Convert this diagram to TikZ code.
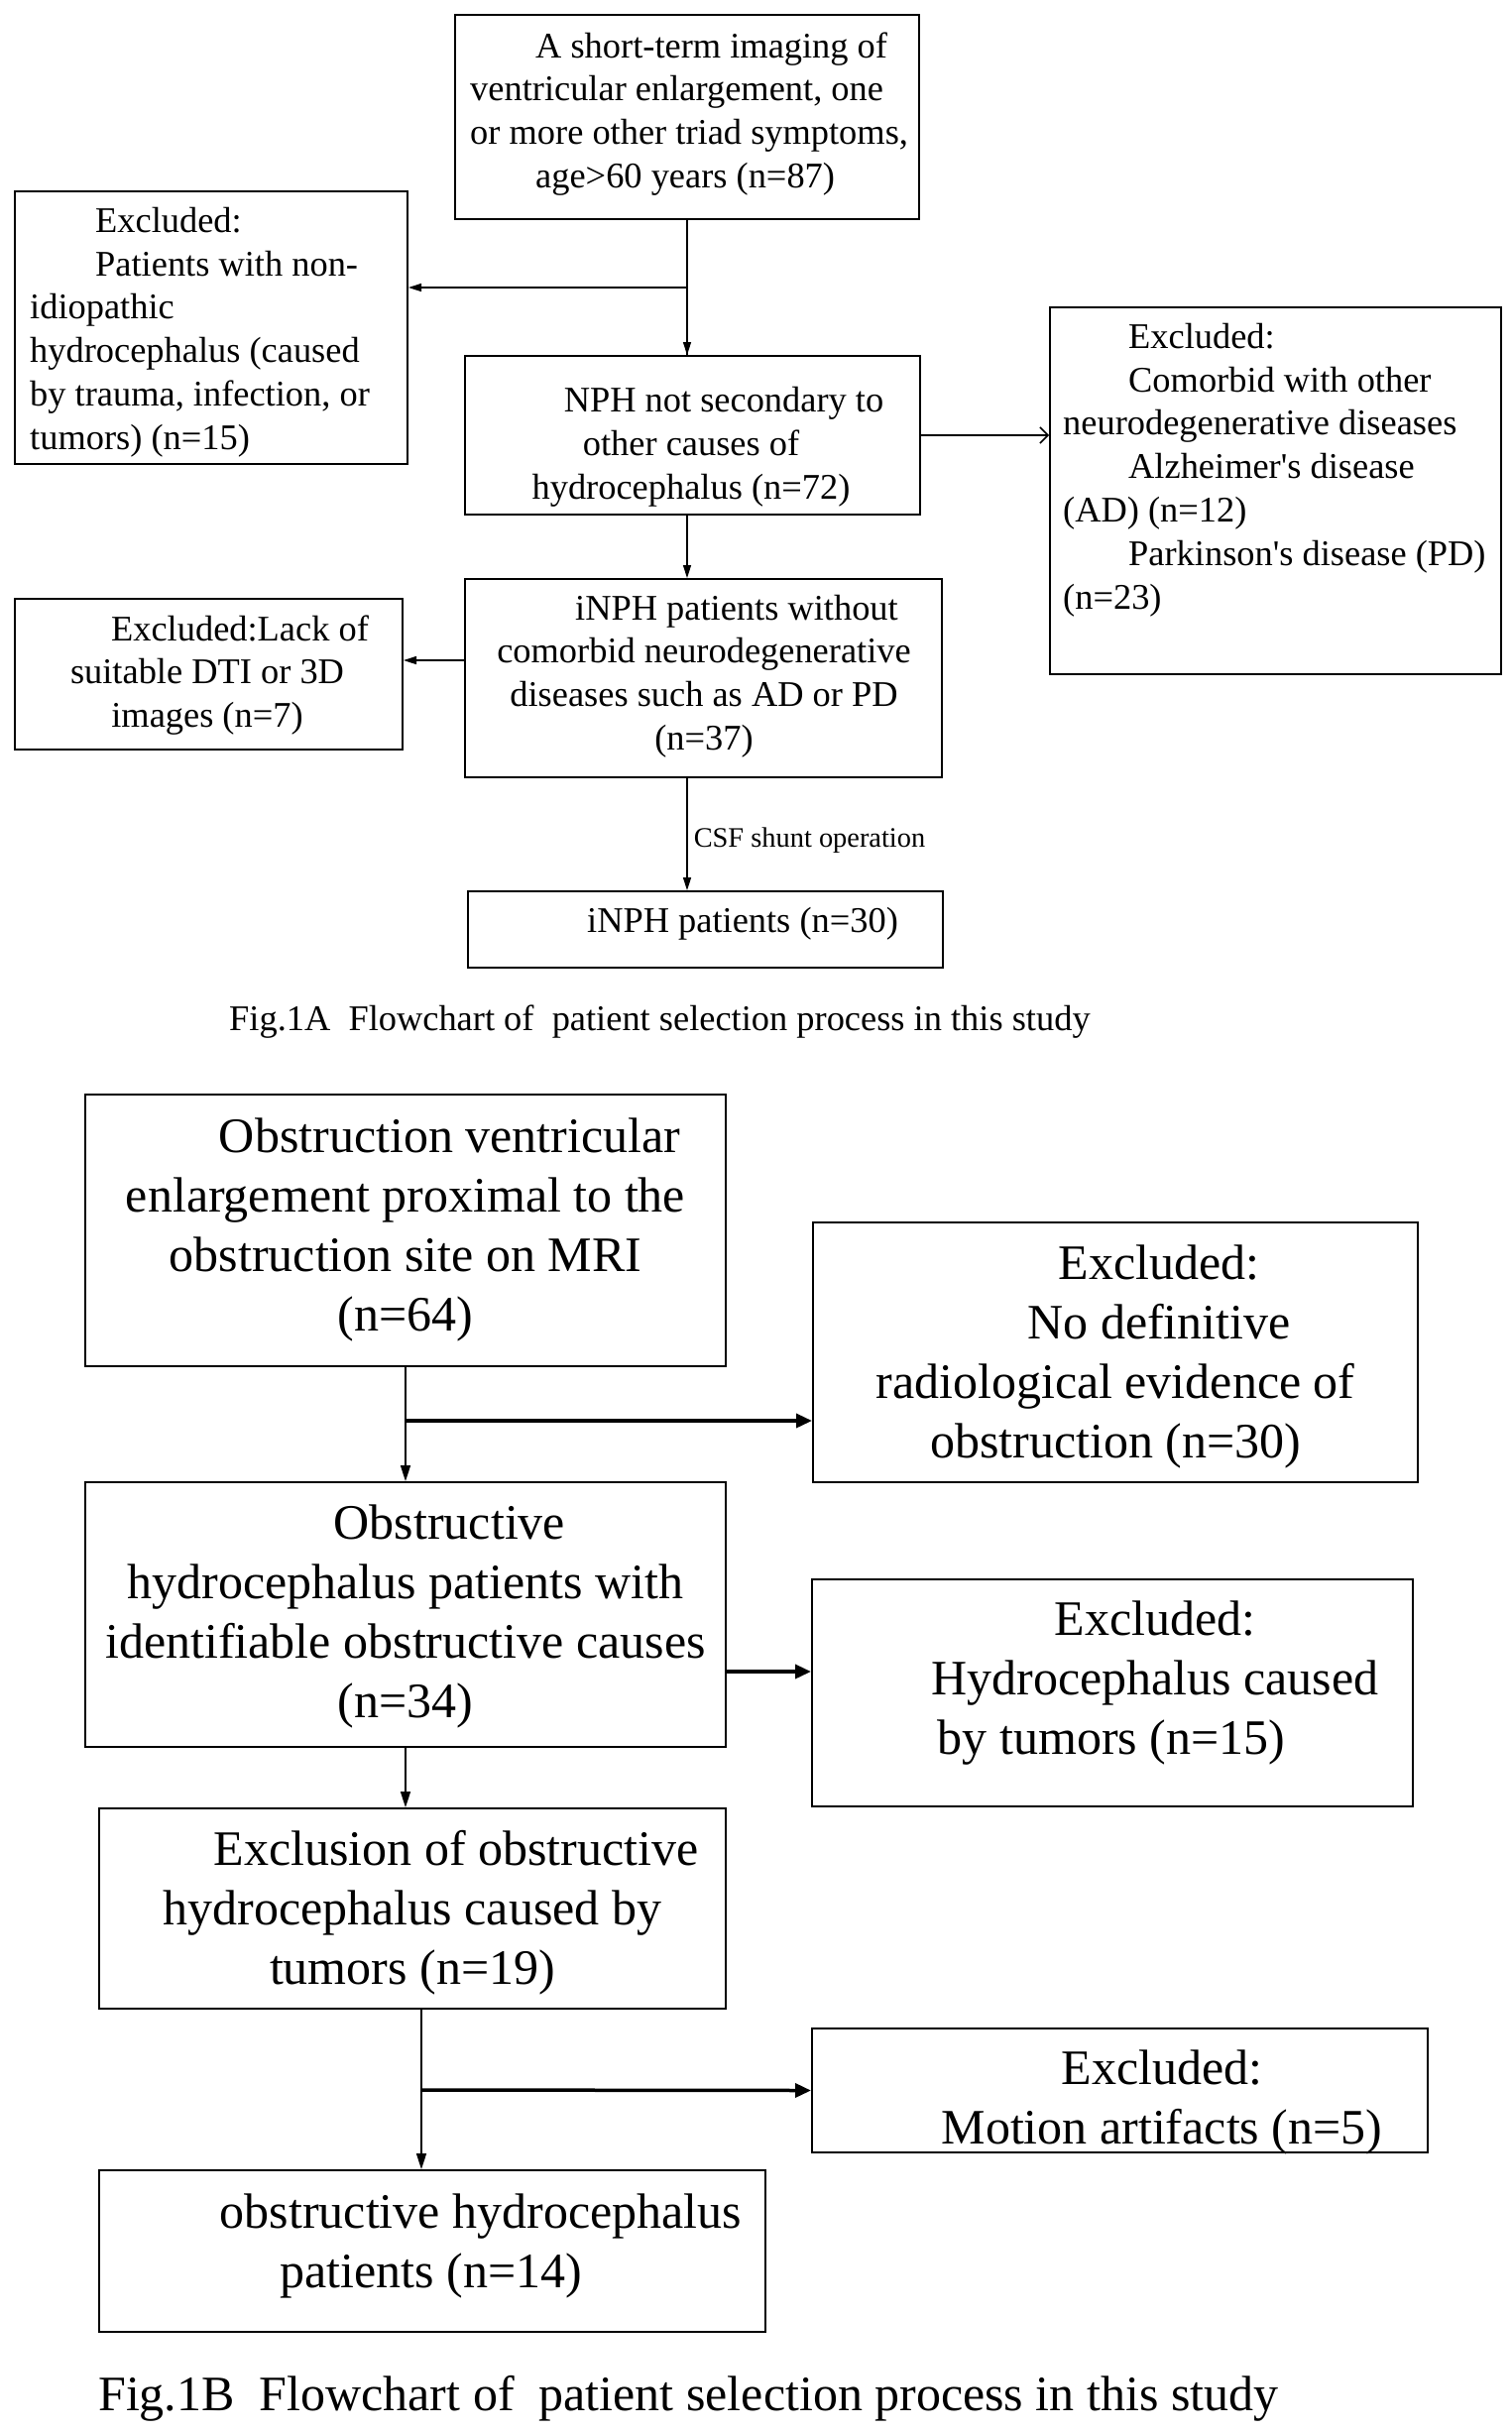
\documentclass[tikz,border=0pt]{standalone}
\usepackage{fontspec}
\setmainfont{Liberation Serif}
\usetikzlibrary{arrows.meta}
\newcommand{\apos}{\textquotesingle}
\begin{document}
\begin{tikzpicture}[x=1pt,y=-1pt,
  box/.style={draw, line width=2pt, inner sep=0pt, rectangle},
  ta/.style={inner sep=0pt, yshift=-4pt, font=\fontsize{36.4}{43.8}\selectfont},
  tb/.style={inner sep=0pt, yshift=-6pt, font=\fontsize{50}{60}\selectfont},
  small/.style={inner sep=0pt, font=\fontsize{28.4}{34}\selectfont},
  arA/.style={line width=1.5pt, -{Triangle[length=13pt,width=8pt]}},
  arOpen/.style={line width=1.5pt, -{Straight Barb[length=8pt,width=16pt,line width=1.5pt]}},
  arB/.style={line width=1.5pt, -{Triangle[length=16pt,width=10pt]}},
  arBt/.style={line width=3.5pt, -{Triangle[length=16pt,width=14pt]}}
]
\useasboundingbox (0,0) rectangle (1524,2453);
\fill[white] (0,0) rectangle (1524,2453);

% ---------- Fig 1A ----------
\node[box, minimum width=468pt, minimum height=206pt] (top) at (693,118) {};
\node[box, minimum width=396pt, minimum height=275pt] (l1) at (213,330.5) {};
\node[box, minimum width=459pt, minimum height=160pt] (nph) at (698.5,439) {};
\node[box, minimum width=455pt, minimum height=370pt] (rt) at (1286.5,495) {};
\node[box, minimum width=391pt, minimum height=152pt] (l2) at (210.5,680) {};
\node[box, minimum width=481pt, minimum height=200pt] (inph) at (709.5,684) {};
\node[box, minimum width=479pt, minimum height=77pt] (i30) at (711.5,937.5) {};

\node[ta, anchor=west, align=left] (ttop) at (474,111)
  {\hspace*{66pt}A short-term imaging of\\ventricular enlargement, one\\or more other triad symptoms,\\\hspace*{66pt}age>60 years (n=87)};
\node[ta, anchor=west, align=left] (tl1) at (30,331)
  {\hspace*{66pt}Excluded:\\\hspace*{66pt}Patients with non-\\idiopathic\\hydrocephalus (caused\\by trauma, infection, or\\tumors) (n=15)};
\node[ta, align=center] (tnph) at (697,447)
  {\hspace*{66pt}NPH not secondary to\\other causes of\\hydrocephalus (n=72)};
\node[ta, anchor=west, align=left] (trt) at (1072,470)
  {\hspace*{66pt}Excluded:\\\hspace*{66pt}Comorbid with other\\neurodegenerative diseases\\\hspace*{66pt}Alzheimer\apos s disease\\(AD) (n=12)\\\hspace*{66pt}Parkinson\apos s disease (PD)\\(n=23)};
\node[ta, align=center] (tl2) at (209,677)
  {\hspace*{66pt}Excluded:Lack of\\suitable DTI or 3D\\images (n=7)};
\node[ta, align=center] (tinph) at (710,678)
  {\hspace*{66pt}iNPH patients without\\comorbid neurodegenerative\\diseases such as AD or PD\\(n=37)};
\node[ta] (ti30) at (749,928) {iNPH patients (n=30)};

\coordinate (ja) at (top.south |- 0,290);
\draw[line width=1.5pt] (top.south) -- (top.south |- nph.north);
\draw[arA] (ja) -- (ja -| top.south) -- (top.south |- nph.north);
\draw[arA] (ja) -- (ja -| l1.east);
\draw[arOpen] (nph.east) -- (nph.east -| rt.west);
\draw[arA] (nph.south -| top.south) -- (inph.north -| top.south);
\draw[arA] ([yshift=18pt]inph.west) -- ([yshift=18pt]inph.west -| l2.east);
\draw[arA] (inph.south -| top.south) -- node[small, anchor=west, xshift=6pt, yshift=-6pt] (csf) {CSF shunt operation} (i30.north -| top.south);

\node[ta, anchor=west] (capA) at (231,1027)
  {Fig.1A\ \ Flowchart of\ \ patient selection process in this study};

% ---------- Fig 1B ----------
\node[box, minimum width=646pt, minimum height=274pt] (b1) at (409,1241) {};
\node[box, minimum width=610pt, minimum height=262pt] (e1) at (1125,1364) {};
\node[box, minimum width=646pt, minimum height=267pt] (b2) at (409,1628.5) {};
\node[box, minimum width=606pt, minimum height=229pt] (e2) at (1122,1707.5) {};
\node[box, minimum width=632pt, minimum height=202pt] (b3) at (416,1925) {};
\node[box, minimum width=621pt, minimum height=125pt] (e3) at (1129.5,2108.5) {};
\node[box, minimum width=672pt, minimum height=163pt] (b4) at (436,2270.5) {};

\node[tb, align=center] (tb1) at (409,1234)
  {\hspace*{89pt}Obstruction ventricular\\enlargement proximal to the\\obstruction site on MRI\\(n=64)};
\node[tb, align=center] (te1) at (1125,1362)
  {\hspace*{88pt}Excluded:\\\hspace*{88pt}No definitive\\radiological evidence of\\obstruction (n=30)};
\node[tb, align=center] (tb2) at (409,1624)
  {\hspace*{89pt}Obstructive\\hydrocephalus patients with\\identifiable obstructive causes\\(n=34)};
\node[tb, align=center] (te2) at (1121,1692)
  {\hspace*{88pt}Excluded:\\\hspace*{88pt}Hydrocephalus caused\\by tumors (n=15)};
\node[tb, align=center] (tb3) at (416,1923)
  {\hspace*{88pt}Exclusion of obstructive\\hydrocephalus caused by\\tumors (n=19)};
\node[tb, align=center] (te3) at (1172,2114)
  {Excluded:\\Motion artifacts (n=5)};
\node[tb, align=center] (tb4) at (435,2259)
  {\hspace*{100pt}obstructive hydrocephalus\\patients (n=14)};

\coordinate (jb1) at (b1.south |- 0,1433);
\draw[arB] (b1.south) -- (b2.north);
\draw[arBt] (jb1) -- (jb1 -| e1.west);
\draw[arBt] (b2.east |- 0,1686) -- (e2.west |- 0,1686);
\draw[arB] (b2.south) -- (b2.south |- b3.north);
\coordinate (jb3) at (425,2108);
\draw[arB] (b3.south -| jb3) -- (b4.north -| jb3);
\draw[arBt] (jb3) -- (e3.west);

\node[tb, anchor=west] (capB) at (99,2413)
  {Fig.1B\ \ Flowchart of\ \ patient selection process in this study};
\end{tikzpicture}
\end{document}
